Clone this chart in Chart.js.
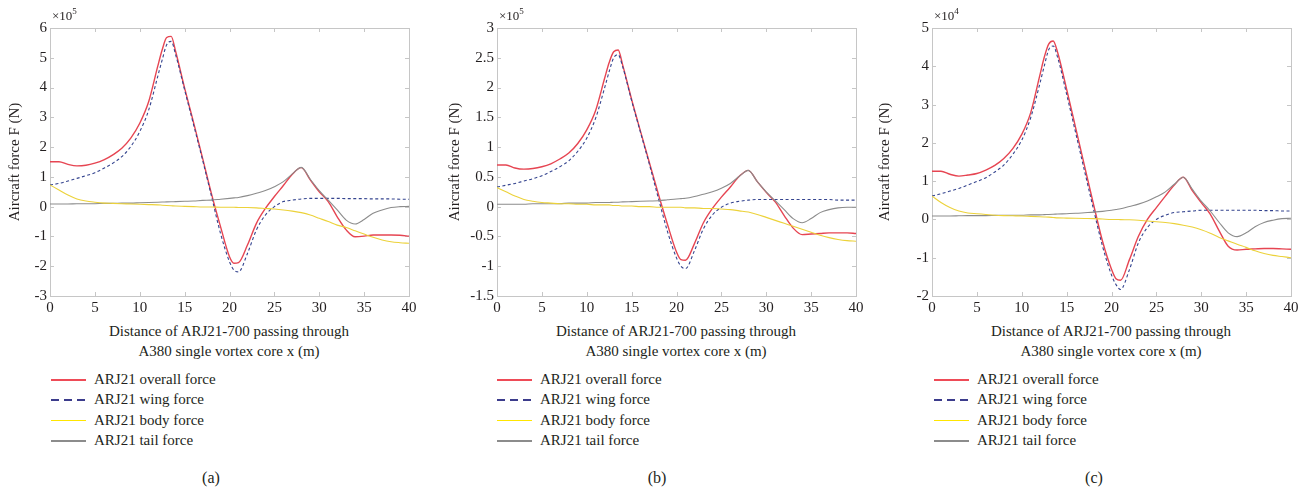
<!DOCTYPE html>
<html>
<head>
<meta charset="utf-8">
<script src="https://cdn.jsdelivr.net/npm/chart.js@4.4.1/dist/chart.umd.min.js"></script>
<style>
  body { margin:0; background:#fff; width:1304px; height:494px; position:relative; overflow:hidden;
         font-family:"Liberation Serif","Times New Roman",serif; color:#231f20; }
  .abs { position:absolute; }
  canvas { position:absolute; top:0; }
  .expo { font-size:13px; top:6px; }
  .expo sup { font-size:9px; vertical-align:6px; }
  .xt { font-size:15px; line-height:20px; text-align:center; top:321px; width:360px; }
  .leg { font-size:15px; line-height:20.4px; top:369px; }
  .leg div { white-space:nowrap; position:relative; padding-left:43px; }
  .leg span.sw { position:absolute; left:0; top:10px; width:35px; height:1.5px; }
  .cap { font-size:16px; top:469px; width:40px; text-align:center; }
</style>
</head>
<body>
<canvas id="ca" width="420" height="320" style="left:0"></canvas>
<canvas id="cb" width="427" height="320" style="left:440px"></canvas>
<canvas id="cc" width="432" height="320" style="left:870px"></canvas>
<div id="overlay"></div>
<script>
// distance through the vortex core (m)
const xs = [0,1,2,3,4,5,6,7,8,9,10,11,12,12.5,13,13.5,14,15,16,17,18,19,20,20.5,
  21,22,23,24,25,26,27,28,29,30,31,32,33,34,35,36,37,38,39,40];

const seriesNames = ['ARJ21 overall force','ARJ21 wing force','ARJ21 body force','ARJ21 tail force'];
const panelLabels = ['(a)','(b)','(c)'];
const exponents = ['5','5','4'];
const xTicks = [0,40,5];               // min, max, step
const yRangeA = [-3,6,1];
const yRangeB = [-1.5,3,0.5];
const yRangeC = [-2,5,1];

// panel (a), x10^5 N
const overallA = [1.51,1.51,1.42,1.37,1.39,1.46,1.57,1.74,1.96,2.30,2.80,3.53,4.71,5.27,5.68,5.72,
  5.21,3.98,2.82,1.63,0.42,-0.67,-1.68,-1.90,
  -1.88,-1.29,-0.56,-0.06,0.34,0.71,1.09,1.31,0.90,0.50,0.17,-0.34,-0.78,-1.01,-0.99,-0.95,-0.95,-0.95,-0.96,-0.99];
const wingA = [0.73,0.78,0.86,0.95,1.04,1.14,1.29,1.46,1.68,2.02,2.52,3.25,4.37,4.93,5.44,5.55,
  5.10,3.92,2.75,1.57,0.34,-0.90,-1.85,-2.13,
  -2.19,-1.57,-0.78,-0.28,0.00,0.17,0.22,0.26,0.28,0.28,0.28,0.28,0.27,0.27,0.27,0.26,0.26,0.26,0.25,0.25];
const bodyA = [0.73,0.56,0.39,0.26,0.19,0.15,0.12,0.11,0.10,0.09,0.08,0.07,0.06,0.05,0.04,0.03,
  0.02,0.01,0.00,-0.01,-0.01,-0.02,-0.02,-0.02,
  -0.03,-0.03,-0.04,-0.06,-0.08,-0.11,-0.15,-0.20,-0.28,-0.39,-0.50,-0.62,-0.70,-0.81,-0.92,-1.03,-1.12,-1.18,-1.21,-1.23];
const tailA = [0.09,0.09,0.09,0.10,0.10,0.10,0.11,0.11,0.12,0.12,0.13,0.14,0.15,0.155,0.16,0.165,
  0.17,0.18,0.19,0.21,0.22,0.25,0.28,0.295,
  0.31,0.37,0.45,0.54,0.67,0.84,1.10,1.32,0.92,0.54,0.22,-0.11,-0.45,-0.58,-0.43,-0.22,-0.11,-0.03,0.00,0.01];

// panel (b), x10^5 N
const overallB = [0.70,0.70,0.65,0.63,0.64,0.67,0.72,0.80,0.90,1.06,1.29,1.62,2.16,2.42,2.60,2.63,
  2.38,1.80,1.26,0.73,0.20,-0.30,-0.76,-0.89,
  -0.90,-0.62,-0.27,-0.03,0.16,0.33,0.51,0.61,0.42,0.24,0.08,-0.15,-0.36,-0.47,-0.46,-0.45,-0.44,-0.44,-0.44,-0.45];
const wingB = [0.33,0.36,0.39,0.43,0.47,0.52,0.59,0.67,0.77,0.93,1.15,1.49,2.00,2.27,2.50,2.55,
  2.35,1.78,1.24,0.70,0.13,-0.42,-0.86,-1.00,
  -1.04,-0.74,-0.37,-0.14,-0.01,0.06,0.09,0.11,0.12,0.12,0.12,0.12,0.12,0.12,0.12,0.12,0.12,0.11,0.11,0.11];
const bodyB = [0.32,0.25,0.18,0.12,0.09,0.07,0.06,0.05,0.05,0.04,0.04,0.03,0.03,0.03,0.02,0.02,
  0.01,0.01,0.00,0.00,-0.01,-0.01,-0.01,-0.01,
  -0.02,-0.02,-0.03,-0.03,-0.04,-0.05,-0.07,-0.09,-0.13,-0.18,-0.23,-0.28,-0.33,-0.38,-0.43,-0.48,-0.52,-0.55,-0.57,-0.58];
const tailB = [0.04,0.04,0.04,0.04,0.05,0.05,0.05,0.05,0.06,0.06,0.06,0.07,0.07,0.07,0.075,0.075,
  0.08,0.085,0.09,0.095,0.10,0.115,0.13,0.135,
  0.14,0.17,0.21,0.25,0.31,0.39,0.51,0.61,0.42,0.25,0.10,-0.05,-0.20,-0.27,-0.20,-0.10,-0.05,-0.02,-0.01,-0.01];

// panel (c), x10^4 N
const overallC = [1.26,1.26,1.18,1.13,1.16,1.20,1.29,1.41,1.59,1.85,2.22,2.79,3.75,4.23,4.58,4.66,
  4.36,3.40,2.40,1.39,0.39,-0.57,-1.30,-1.55,
  -1.59,-1.05,-0.44,0.00,0.31,0.61,0.90,1.10,0.75,0.44,0.14,-0.30,-0.70,-0.80,-0.78,-0.77,-0.76,-0.76,-0.77,-0.78];
const wingC = [0.61,0.67,0.74,0.81,0.90,0.99,1.09,1.24,1.42,1.70,2.07,2.66,3.53,4.00,4.43,4.53,
  4.23,3.27,2.27,1.26,0.26,-0.70,-1.45,-1.70,
  -1.83,-1.31,-0.61,-0.21,0.00,0.11,0.18,0.20,0.22,0.24,0.24,0.24,0.24,0.24,0.24,0.24,0.23,0.23,0.22,0.22];
const bodyC = [0.61,0.44,0.31,0.22,0.17,0.15,0.13,0.11,0.10,0.095,0.09,0.08,0.07,0.065,0.06,0.05,
  0.04,0.035,0.03,0.025,0.02,0.01,0.00,0.00,
  -0.005,-0.01,-0.02,-0.04,-0.06,-0.08,-0.11,-0.15,-0.20,-0.27,-0.36,-0.47,-0.56,-0.65,-0.73,-0.82,-0.89,-0.94,-0.97,-1.00];
const tailC = [0.09,0.09,0.09,0.095,0.10,0.10,0.10,0.105,0.11,0.11,0.11,0.12,0.12,0.125,0.13,0.135,
  0.14,0.15,0.16,0.175,0.19,0.21,0.24,0.26,
  0.28,0.34,0.40,0.48,0.59,0.72,0.92,1.10,0.79,0.48,0.22,-0.08,-0.35,-0.45,-0.35,-0.19,-0.08,-0.02,0.02,0.03];

const colors = ['#e64552','#34448f','#ecd23a','#8c8c8c'];
const legendColors = ['#ee4b57','#3c3c8c','#ffe600','#8c8c8c'];
const TEXT = '#231f20';
const FONT = '"Liberation Serif","Times New Roman",serif';

// frame with inward ticks on all four sides (box on)
const framePlugin = {
  id: 'frame',
  beforeDatasetsDraw(chart) {
    const {ctx, chartArea: a, scales} = chart;
    ctx.save();
    ctx.strokeStyle = '#c6c6c6';
    ctx.lineWidth = 1;
    ctx.strokeRect(Math.round(a.left)+0.5, Math.round(a.top)+0.5, Math.round(a.right-a.left), Math.round(a.bottom-a.top));
    ctx.beginPath();
    scales.x.ticks.forEach(t => {
      const px = Math.round(scales.x.getPixelForValue(t.value)) + 0.5;
      ctx.moveTo(px, a.bottom); ctx.lineTo(px, a.bottom - 4);
      ctx.moveTo(px, a.top); ctx.lineTo(px, a.top + 4);
    });
    scales.y.ticks.forEach(t => {
      const py = Math.round(scales.y.getPixelForValue(t.value)) + 0.5;
      ctx.moveTo(a.left, py); ctx.lineTo(a.left + 4, py);
      ctx.moveTo(a.right, py); ctx.lineTo(a.right - 4, py);
    });
    ctx.stroke();
    ctx.restore();
  }
};

function makePanel(id, series, yRange, yAxisWidth) {
  const datasets = series.map((vals, i) => ({
    label: seriesNames[i],
    data: xs.map((x, k) => ({x: x, y: vals[k]})),
    borderColor: colors[i],
    borderWidth: i === 0 ? 1.4 : 1.1,
    borderDash: i === 1 ? [3, 2.5] : [],
    pointRadius: 0,
    cubicInterpolationMode: 'monotone',
    fill: false
  }));
  // draw order: body and tail under wing and overall
  const ordered = [datasets[2], datasets[3], datasets[1], datasets[0]];
  return new Chart(document.getElementById(id), {
    type: 'line',
    data: {datasets: ordered},
    plugins: [framePlugin],
    options: {
      responsive: false,
      animation: false,
      devicePixelRatio: 1,
      layout: {padding: {top: 28, right: 11, bottom: 0, left: 0}},
      plugins: {legend: {display: false}, tooltip: {enabled: false}},
      scales: {
        x: {
          type: 'linear', min: xTicks[0], max: xTicks[1],
          ticks: {stepSize: xTicks[2], color: TEXT, font: {family: FONT, size: 15}, padding: 3, maxRotation: 0},
          grid: {display: false, drawTicks: false},
          border: {display: false},
          afterFit(s) { s.height = 24; }
        },
        y: {
          min: yRange[0], max: yRange[1],
          ticks: {stepSize: yRange[2], color: TEXT, font: {family: FONT, size: 15}, padding: 3,
                  callback: v => String(v)},
          grid: {display: false, drawTicks: false},
          border: {display: false},
          title: {display: true, text: 'Aircraft force F (N)', color: TEXT,
                  font: {family: FONT, size: 15}, padding: {top: 6, bottom: 0}},
          afterFit(s) { s.width = yAxisWidth; }
        }
      }
    }
  });
}

makePanel('ca', [overallA, wingA, bodyA, tailA], yRangeA, 50);
makePanel('cb', [overallB, wingB, bodyB, tailB], yRangeB, 57);
makePanel('cc', [overallC, wingC, bodyC, tailC], yRangeC, 62);

// texts around each panel
const plotLeft = [50, 497, 932];
const capCenter = [211, 657, 1094];
const legendLeft = [51, 497, 934];
const ov = document.getElementById('overlay');
for (let p = 0; p < 3; p++) {
  const e = document.createElement('div');
  e.className = 'abs expo';
  e.style.left = (plotLeft[p] + 2) + 'px';
  e.innerHTML = '×10<sup>' + exponents[p] + '</sup>';
  ov.appendChild(e);

  const t = document.createElement('div');
  t.className = 'abs xt';
  t.style.left = (plotLeft[p] + 179 - 180) + 'px';
  t.innerHTML = 'Distance of ARJ21-700 passing through<br>A380 single vortex core x (m)';
  ov.appendChild(t);

  const lg = document.createElement('div');
  lg.className = 'abs leg';
  lg.style.left = legendLeft[p] + 'px';
  seriesNames.forEach((n, i) => {
    const row = document.createElement('div');
    const sw = document.createElement('span');
    sw.className = 'sw';
    if (i === 1) {
      sw.style.background = 'repeating-linear-gradient(to right,' + legendColors[i] + ' 0 8px, transparent 8px 13px)';
    } else {
      sw.style.background = legendColors[i];
    }
    row.appendChild(sw);
    row.appendChild(document.createTextNode(n));
    lg.appendChild(row);
  });
  ov.appendChild(lg);

  const c = document.createElement('div');
  c.className = 'abs cap';
  c.style.left = (capCenter[p] - 20) + 'px';
  c.textContent = panelLabels[p];
  ov.appendChild(c);
}
</script>
</body>
</html>
